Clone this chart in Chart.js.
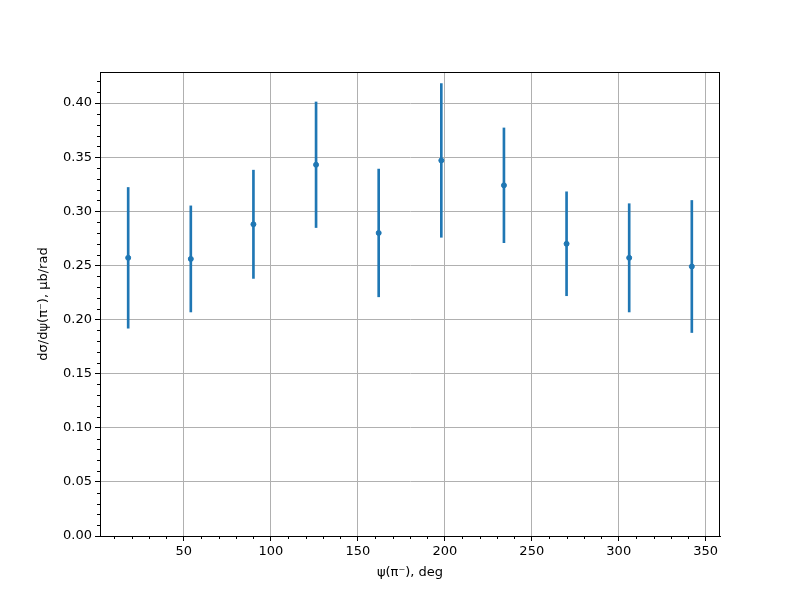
<!DOCTYPE html>
<html>
<head>
<meta charset="utf-8">
<script src="https://cdn.jsdelivr.net/npm/chart.js@4/dist/chart.umd.min.js"></script>
<style>
  body { margin: 0; background: #fff; }
</style>
</head>
<body>
<canvas id="myChart" width="800" height="600"></canvas>
<script>
// data
var psi = [18, 54, 90, 126, 162, 198, 234, 270, 306, 342];
var xsec = [0.257, 0.256, 0.288, 0.343, 0.280, 0.347, 0.324, 0.270, 0.257, 0.249];
var xsecErr = [0.065, 0.049, 0.050, 0.058, 0.059, 0.071, 0.053, 0.048, 0.050, 0.061];
var xTicks = [50, 100, 150, 200, 250, 300, 350];
var yTicks = [0, 0.05, 0.1, 0.15, 0.2, 0.25, 0.3, 0.35, 0.4];

var blue = '#1f77b4';
var points = psi.map(function (x, i) { return { x: x, y: xsec[i] }; });
var bars = psi.map(function (x, i) { return { x: x, y: [xsec[i] - xsecErr[i], xsec[i] + xsecErr[i]] }; });

Chart.defaults.font.family = '"DejaVu Sans", sans-serif';
Chart.defaults.font.size = 13;
Chart.defaults.color = '#000';

// top/right frame + minor ticks
var framePlugin = {
  id: 'frame',
  afterDraw: function (chart) {
    var c = chart.ctx, a = chart.chartArea;
    var xs = chart.scales.x, ys = chart.scales.y;
    c.save();
    c.strokeStyle = '#000';
    c.lineWidth = 1;
    c.beginPath();
    c.moveTo(a.left, a.top + 0.5); c.lineTo(a.right, a.top + 0.5);
    c.moveTo(a.right - 0.5, a.top); c.lineTo(a.right - 0.5, a.bottom);
    c.stroke();
    c.beginPath();
    for (var v = 10; v < 360; v += 10) {
      if (v % 50 === 0) continue;
      var px = Math.round(xs.getPixelForValue(v)) + 0.5;
      if (px < a.left || px > a.right) continue;
      c.moveTo(px, a.bottom); c.lineTo(px, a.bottom + 3);
    }
    for (var k = 1; k <= 42; k++) {
      if (k % 5 === 0) continue;
      var py = Math.round(ys.getPixelForValue(k / 100)) + 0.5;
      c.moveTo(a.left, py); c.lineTo(a.left - 3, py);
    }
    c.stroke();
    c.restore();
  }
};

var ctx = document.getElementById('myChart').getContext('2d');
var chart = new Chart(ctx, {
  type: 'bar',
  data: {
    datasets: [{
      type: 'scatter',
      data: points,
      backgroundColor: blue,
      borderColor: blue,
      pointRadius: 2.5,
      pointHoverRadius: 2.5,
      order: 0
    }, {
      type: 'bar',
      data: bars,
      backgroundColor: blue,
      borderWidth: 0,
      barThickness: 2,
      order: 1
    }]
  },
  options: {
    responsive: false,
    animation: false,
    layout: { padding: { left: 32, top: 72, right: 80, bottom: 16 } },
    plugins: { legend: { display: false }, tooltip: { enabled: false } },
    scales: {
      x: {
        type: 'linear',
        min: 1.8,
        max: 358.2,
        offset: false,
        afterBuildTicks: function (s) { s.ticks = xTicks.map(function (v) { return { value: v }; }); },
        afterFit: function (s) { s.height = 48; },
        grid: { offset: false, color: '#b0b0b0', tickColor: '#000', tickLength: 5, lineWidth: 1 },
        border: { color: '#000', width: 1 },
        ticks: { padding: 3, maxRotation: 0, callback: function (v) { return String(v); } },
        title: { display: true, text: 'ψ(π⁻), deg', padding: { top: 4, bottom: 4 } }
      },
      y: {
        type: 'linear',
        min: 0,
        max: 0.4287,
        afterBuildTicks: function (s) { s.ticks = yTicks.map(function (v) { return { value: v }; }); },
        afterFit: function (s) { s.width = 68; },
        grid: { color: '#b0b0b0', tickColor: '#000', tickLength: 5, lineWidth: 1 },
        border: { color: '#000', width: 1 },
        ticks: { padding: 3, callback: function (v) { return v.toFixed(2); } },
        title: { display: true, text: 'dσ/dψ(π⁻), μb/rad', padding: { top: 4, bottom: 4 } }
      }
    }
  },
  plugins: [framePlugin]
});
</script>
</body>
</html>
